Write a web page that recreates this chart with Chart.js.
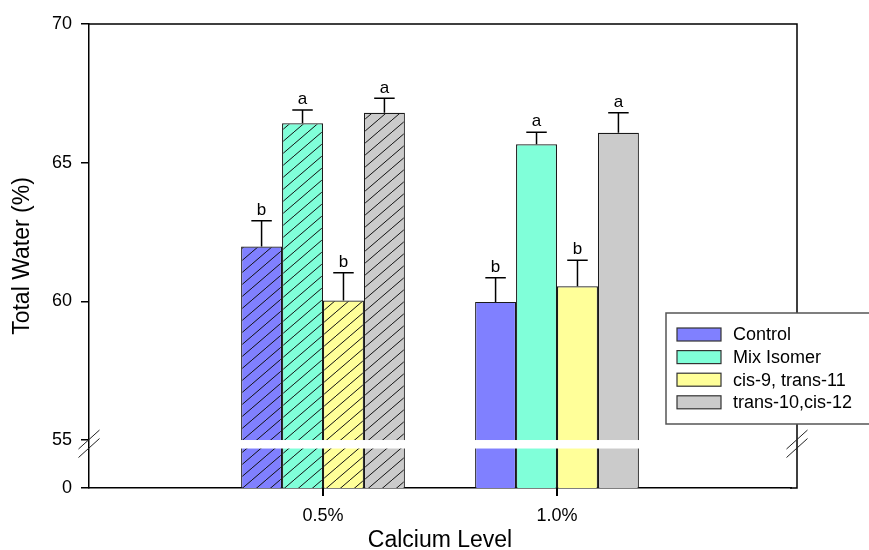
<!DOCTYPE html>
<html>
<head>
<meta charset="utf-8">
<title>Total Water by Calcium Level</title>
<script src="https://cdn.jsdelivr.net/npm/chart.js@4.4.1/dist/chart.umd.min.js"></script>
<style>
  html, body { margin: 0; padding: 0; background: #fff; }
  #waterChart { display: block; }
</style>
</head>
<body>
<canvas id="waterChart" width="869" height="550"></canvas>
<script>
// Data
const categories = ['0.5%', '1.0%'];
const seriesNames = ['Control', 'Mix Isomer', 'cis-9, trans-11', 'trans-10,cis-12'];
const controlValues = [61.98, 59.98];
const mixIsomerValues = [66.42, 65.66];
const cis9Trans11Values = [60.03, 60.54];
const trans10Cis12Values = [66.8, 66.08];
const controlErrors = [0.93, 0.87];
const mixIsomerErrors = [0.48, 0.44];
const cis9Trans11Errors = [1.0, 0.94];
const trans10Cis12Errors = [0.52, 0.72];
const controlLetters = ['b', 'b'];
const mixIsomerLetters = ['a', 'a'];
const cis9Trans11Letters = ['b', 'b'];
const trans10Cis12Letters = ['a', 'a'];
const yTickValues = [0, 55, 60, 65, 70];
const yTickLabels = ['0', '55', '60', '65', '70'];
const yBreak = 55;

// 0 sits a short way under the break, so the axis starts just below 55
const yAxisBottom = 53.27;
const fontFamily = '"Liberation Sans", Arial, Helvetica, sans-serif';
const colors = ['#8080ff', '#80ffd9', '#ffff99', '#cbcbcb'];
const hatchedCategory = '0.5%';
// the drawn frame runs a little past the last category slot
const frameExtra = 6;

// one padding slot at each end so the two groups sit near a third and two thirds
const xLabels = [''].concat(categories, ['']);
const pad = (arr) => [null].concat(arr, [null]);

function makeHatch(color) {
    const w = 14, h = 12;
    const c = document.createElement('canvas');
    c.width = w; c.height = h;
    const g = c.getContext('2d');
    g.fillStyle = color;
    g.fillRect(0, 0, w, h);
    g.strokeStyle = '#111';
    g.lineWidth = 1;
    for (let k = -1; k <= 1; k++) {
        g.beginPath();
        g.moveTo(k * w, h);
        g.lineTo(k * w + w, 0);
        g.stroke();
    }
    return g.createPattern(c, 'repeat');
}

const seriesValues = [controlValues, mixIsomerValues, cis9Trans11Values, trans10Cis12Values];
const seriesErrors = [controlErrors, mixIsomerErrors, cis9Trans11Errors, trans10Cis12Errors];
const seriesLetters = [controlLetters, mixIsomerLetters, cis9Trans11Letters, trans10Cis12Letters];

const datasets = seriesNames.map((name, i) => {
    const hatch = makeHatch(colors[i]);
    return {
        label: name,
        data: pad(seriesValues[i]),
        errors: pad(seriesErrors[i]),
        letters: pad(seriesLetters[i]),
        backgroundColor: (c) => xLabels[c.dataIndex] === hatchedCategory ? hatch : colors[i],
        borderColor: '#1a1a1a',
        borderWidth: 1.2,
        borderSkipped: false,
        categoryPercentage: 0.70,
        barPercentage: 1.0
    };
});

// Error bars and significance letters
const errorBars = {
    id: 'errorBars',
    afterDatasetsDraw(chart) {
        const ctx = chart.ctx;
        const y = chart.scales.y;
        ctx.save();
        ctx.strokeStyle = '#000';
        ctx.lineWidth = 1.5;
        ctx.fillStyle = '#000';
        ctx.font = '17px ' + fontFamily;
        ctx.textAlign = 'center';
        ctx.textBaseline = 'bottom';
        chart.data.datasets.forEach((ds, di) => {
            chart.getDatasetMeta(di).data.forEach((bar, i) => {
                if (ds.data[i] == null) return;
                const top = y.getPixelForValue(ds.data[i] + ds.errors[i]);
                const half = bar.width / 4;
                ctx.beginPath();
                ctx.moveTo(bar.x, bar.y);
                ctx.lineTo(bar.x, top);
                ctx.moveTo(bar.x - half, top);
                ctx.lineTo(bar.x + half, top);
                ctx.stroke();
                ctx.fillText(ds.letters[i], bar.x, top - 2);
            });
        });
        ctx.restore();
    }
};

// Frame, x tick marks, axis break and legend box
const frameAndBreak = {
    id: 'frameAndBreak',
    afterDraw(chart) {
        const ctx = chart.ctx;
        const area = chart.chartArea;
        const xScale = chart.scales.x;
        const right = area.right + frameExtra;
        const yb = chart.scales.y.getPixelForValue(yBreak);
        const gap = 8.5;
        ctx.save();
        // white gap through the bars
        ctx.fillStyle = '#fff';
        ctx.fillRect(area.left + 1, yb, right - area.left - 2, gap);
        // top, right and extended bottom edges of the frame
        ctx.strokeStyle = '#000';
        ctx.lineWidth = 1.5;
        ctx.beginPath();
        ctx.moveTo(area.left, area.top);
        ctx.lineTo(right, area.top);
        ctx.lineTo(right, area.bottom);
        ctx.lineTo(area.right - 1, area.bottom);
        ctx.stroke();
        // tick marks under each calcium level
        ctx.fillStyle = '#000';
        categories.forEach((cat) => {
            const px = Math.round(xScale.getPixelForTick(xLabels.indexOf(cat)));
            ctx.fillRect(px - 1, area.bottom, 2, 8);
        });
        // break slashes on both vertical axes
        ctx.lineWidth = 1;
        ctx.strokeStyle = '#222';
        [area.left, right].forEach((x) => {
            [yb - 0.5, yb + gap - 0.5].forEach((yc) => {
                ctx.beginPath();
                ctx.moveTo(x - 10.5, yc + 9.5);
                ctx.lineTo(x + 10.5, yc - 9.5);
                ctx.stroke();
            });
        });

        // legend
        const lx = 666, ly = 313, lh = 111;
        ctx.fillStyle = '#fff';
        ctx.fillRect(lx, ly, 240, lh);
        ctx.strokeStyle = '#555';
        ctx.lineWidth = 1.5;
        ctx.strokeRect(lx, ly, 240, lh);
        ctx.font = '18px ' + fontFamily;
        ctx.textAlign = 'left';
        ctx.textBaseline = 'middle';
        seriesNames.forEach((name, i) => {
            const cy = 334.5 + i * 22.6;
            ctx.fillStyle = colors[i];
            ctx.fillRect(677, cy - 6.5, 44, 13);
            ctx.strokeStyle = '#333';
            ctx.lineWidth = 1.2;
            ctx.strokeRect(677, cy - 6.5, 44, 13);
            ctx.fillStyle = '#000';
            ctx.fillText(name, 733, cy + 1);
        });
        ctx.restore();
    }
};

const tickFont = { family: fontFamily, size: 18 };
const titleFont = { family: fontFamily, size: 23 };

new Chart(document.getElementById('waterChart'), {
    type: 'bar',
    data: { labels: xLabels, datasets: datasets },
    options: {
        responsive: false,
        animation: false,
        layout: { padding: { top: 24, right: 72 + frameExtra, left: 0, bottom: 0 } },
        plugins: {
            legend: { display: false },
            tooltip: { enabled: false }
        },
        scales: {
            x: {
                type: 'category',
                offset: false,
                afterFit: (scale) => { scale.height = 62; },
                // tick marks are drawn by the plugin; keep the length for label spacing
                grid: { offset: false, drawOnChartArea: false, tickLength: 8, color: 'rgba(0,0,0,0)' },
                border: { color: '#000', width: 1.5 },
                ticks: { font: tickFont, color: '#000', padding: 9, autoSkip: false, maxRotation: 0 },
                title: {
                    display: true,
                    text: 'Calcium Level',
                    color: '#000',
                    font: Object.assign({ lineHeight: 0.8 }, titleFont),
                    padding: { top: 0, bottom: 0 }
                }
            },
            y: {
                min: yAxisBottom,
                max: 70,
                afterFit: (scale) => { scale.width = 89; },
                afterBuildTicks: (scale) => {
                    scale.ticks = yTickValues.map((v) => ({ value: v < yBreak ? yAxisBottom : v }));
                },
                grid: { drawOnChartArea: false, tickLength: 8, lineWidth: 1.5, color: '#000' },
                border: { color: '#000', width: 1.5 },
                ticks: {
                    font: tickFont,
                    color: '#000',
                    padding: 9,
                    callback: (value, index) => yTickLabels[index]
                },
                title: {
                    display: true,
                    text: 'Total Water (%)',
                    color: '#000',
                    font: titleFont,
                    padding: { top: 9, bottom: 0 }
                }
            }
        }
    },
    plugins: [errorBars, frameAndBreak]
});
</script>
</body>
</html>
